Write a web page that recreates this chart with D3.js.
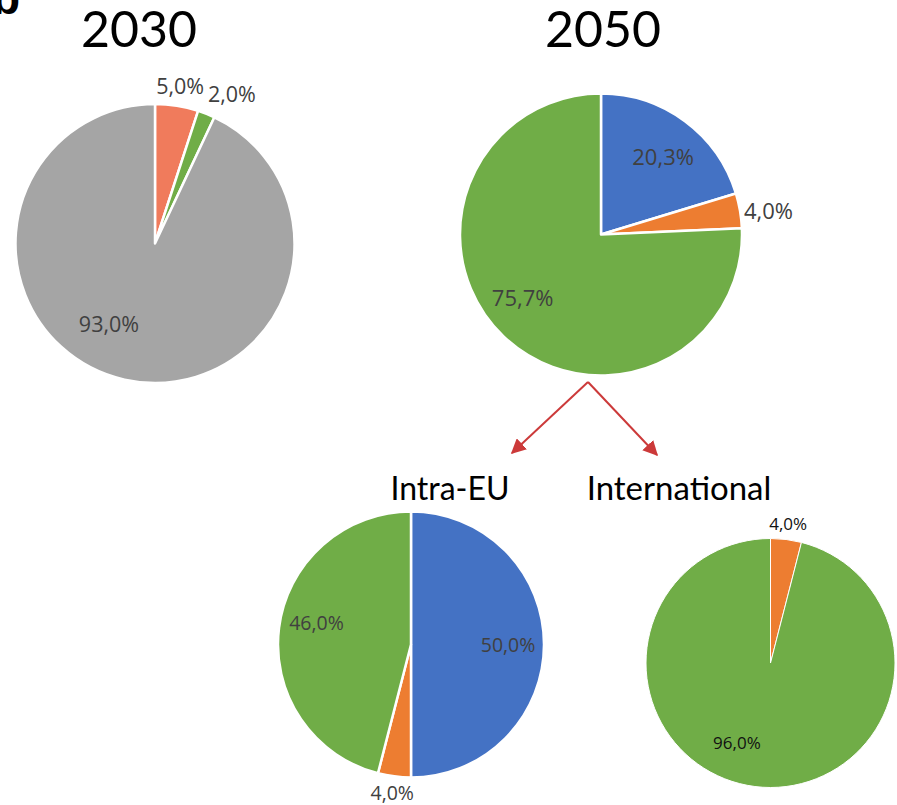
<!DOCTYPE html>
<html>
<head>
<meta charset="utf-8">
<script src="https://cdn.jsdelivr.net/npm/d3@7"></script>
<style>
  html, body { margin: 0; padding: 0; background: #fff; }
  svg { display: block; }
</style>
</head>
<body>
<svg id="chart" width="897" height="805"></svg>
<script>
// ---- Data ----
const categories2030 = ["Category A", "Category B", "Category C"];
const values2030 = [5.0, 2.0, 93.0];

const categories2050 = ["Hydrogen", "Other", "Electric"];
const values2050 = [20.3, 4.0, 75.7];

const categoriesIntraEU = ["Hydrogen", "Other", "Electric"];
const valuesIntraEU = [50.0, 4.0, 46.0];

const categoriesInternational = ["Other", "Electric"];
const valuesInternational = [4.0, 96.0];

const titles = ["2030", "2050", "Intra-EU", "International"];

// ---- Layout / style ----
const svg = d3.select("#chart");
const fmt = v => d3.format(".1f")(v).replace(".", ",") + "%";

const pies = [
  { cats: categories2030, vals: values2030, cx: 155, cy: 243.5, r: 139.5,
    colors: ["#F07B5C", "#70AD47", "#A5A5A5"], stroke: 2.5,
    font: 21.5, textColor: "#404040",
    labels: [{da: 0, k: 1.15}, {da: 5.5, k: 1.21}, {da: 17.4, k: 0.66}] },
  { cats: categories2050, vals: values2050, cx: 601, cy: 234.5, r: 141,
    colors: ["#4472C4", "#ED7D31", "#70AD47"], stroke: 2.5,
    font: 22, textColor: "#404040",
    labels: [{da: 1.8, k: 0.71}, {da: 1.4, k: 1.2}, {da: 7.8, k: 0.71}] },
  { cats: categoriesIntraEU, vals: valuesIntraEU, cx: 411, cy: 644.5, r: 133,
    colors: ["#4472C4", "#ED7D31", "#70AD47"], stroke: 2.5,
    font: 19.5, textColor: "#404040",
    labels: [{da: 0, k: 0.73}, {da: 0, k: 1.125}, {da: 6.1, k: 0.73}] },
  { cats: categoriesInternational, vals: valuesInternational, cx: 770.5, cy: 663, r: 124.5,
    colors: ["#ED7D31", "#70AD47"], stroke: 1,
    font: 17, textColor: "#111111",
    labels: [{da: 0, k: 1.13}, {da: 15.8, k: 0.69}] }
];

const pieGen = d3.pie().sort(null).value(d => d);

pies.forEach(p => {
  const arcs = pieGen(p.vals);
  const arc = d3.arc().innerRadius(0).outerRadius(p.r);
  const color = d3.scaleOrdinal().domain(p.cats).range(p.colors);
  const g = svg.append("g").attr("transform", `translate(${p.cx},${p.cy})`);
  g.selectAll("path").data(arcs).join("path")
    .attr("d", arc)
    .attr("fill", (d, i) => color(p.cats[i]))
    .attr("stroke", "#fff")
    .attr("stroke-width", p.stroke)
    .attr("stroke-linejoin", "round");
  g.selectAll("text").data(arcs).join("text")
    .attr("transform", (d, i) => {
      const L = p.labels[i];
      const a = (d.startAngle + d.endAngle) / 2 + L.da * Math.PI / 180;
      const rr = p.r * L.k;
      return `translate(${rr * Math.sin(a)},${-rr * Math.cos(a)})`;
    })
    .attr("text-anchor", "middle")
    .attr("dominant-baseline", "central")
    .attr("font-family", "'Open Sans', 'Noto Sans', sans-serif")
    .attr("font-size", p.font)
    .attr("fill", p.textColor)
    .text(d => fmt(d.value));
});

// ---- Titles ----
const titlePos = [
  { x: 139, y: 47, size: 50 },
  { x: 603, y: 47, size: 50 },
  { x: 450, y: 500, size: 32 },
  { x: 679, y: 500, size: 33 }
];
titles.forEach((t, i) => {
  svg.append("text")
    .attr("x", titlePos[i].x).attr("y", titlePos[i].y)
    .attr("text-anchor", "middle")
    .attr("font-family", "Lato, 'Liberation Sans', sans-serif")
    .attr("font-size", titlePos[i].size)
    .attr("fill", "#000")
    .text(t);
});

// clipped panel letter at top-left
svg.append("text")
  .attr("x", -8).attr("y", 14)
  .attr("font-family", "'Liberation Sans', Arial, sans-serif")
  .attr("font-weight", "bold")
  .attr("font-size", 46)
  .attr("fill", "#000")
  .text("b");

// ---- Arrows ----
const defs = svg.append("defs");
defs.append("marker")
  .attr("id", "arrowhead")
  .attr("viewBox", "0 0 10 10")
  .attr("refX", 9).attr("refY", 5)
  .attr("markerWidth", 7.5).attr("markerHeight", 7.5)
  .attr("markerUnits", "strokeWidth")
  .attr("orient", "auto")
  .append("path").attr("d", "M0,0 L10,5 L0,10 Z").attr("fill", "#CC3A3A");

const arrowStart = [588, 382];
const arrowEnds = [[512, 453], [657, 455]];
arrowEnds.forEach(e => {
  svg.append("line")
    .attr("x1", arrowStart[0]).attr("y1", arrowStart[1])
    .attr("x2", e[0]).attr("y2", e[1])
    .attr("stroke", "#CC3A3A")
    .attr("stroke-width", 2)
    .attr("marker-end", "url(#arrowhead)");
});
</script>
</body>
</html>
